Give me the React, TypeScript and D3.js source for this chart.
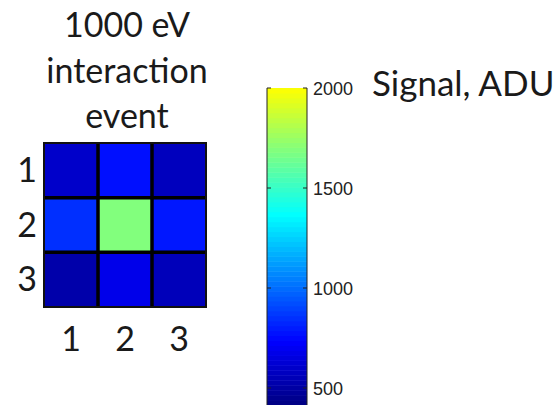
import React from "react";
import * as d3 from "d3";

// Detector pixel signal (ADU) for a single 1000 eV interaction event, rows top to bottom
const rowLabels = ["1", "2", "3"];
const colLabels = ["1", "2", "3"];
const signalRow1 = [600, 770, 570];
const signalRow2 = [850, 1690, 790];
const signalRow3 = [520, 680, 560];
const signalGrid = [signalRow1, signalRow2, signalRow3];

// Colour bar range and ticks (ADU)
const colorMin = 415;
const colorMax = 2000;
const colorTicks = [500, 1000, 1500, 2000];
// jet colormap stops, truncated at yellow
const jetStops = [415, 732, 1366, 2000];
const jetColors = ["#000080", "#0000ff", "#00ffff", "#ffff00"];

const titleLines = ["1000 eV", "interaction", "event"];
const colorbarTitle = "Signal, ADU";

const W = 554;
const H = 405;
const FONT = "Lato, 'Open Sans', sans-serif";

export default function App() {
  const grid = { x0: 44, x1: 206, y0: 143, y1: 307 };
  const x = d3.scaleBand<string>().domain(colLabels).range([grid.x0, grid.x1]);
  const y = d3.scaleBand<string>().domain(rowLabels).range([grid.y0, grid.y1]);

  const color = d3
    .scaleLinear<string>()
    .domain(jetStops)
    .range(jetColors)
    .interpolate(d3.interpolateRgb)
    .clamp(true);

  // Colour bar
  const cb = { x0: 267, x1: 307 };
  const cy = d3.scaleLinear().domain([colorMin, colorMax]).range([405, 88]);
  const nBands = 64;
  const bandVals = d3.range(nBands).map(
    (i) => colorMin + ((i + 0.5) * (colorMax - colorMin)) / nBands
  );
  const bandH = (cy(colorMin) - cy(colorMax)) / nBands;

  const cellW = x.bandwidth();
  const cellH = y.bandwidth();

  return (
    <div style={{ position: "fixed", left: 0, top: 0, width: W, height: H, background: "#fff" }}>
      <svg width={W} height={H} style={{ display: "block" }}>
        <rect width={W} height={H} fill="#fff" />
        {/* title */}
        {titleLines.map((t, i) => (
          <text
            key={t}
            x={127}
            y={37 + i * 45.5}
            textAnchor="middle"
            fontFamily={FONT}
            fontSize={34}
            fill="#1a1a1a"
          >
            {t}
          </text>
        ))}

        {/* cells */}
        {signalGrid.map((row, ri) =>
          row.map((v, ci) => (
            <rect
              key={`${ri}-${ci}`}
              x={x(colLabels[ci])}
              y={y(rowLabels[ri])}
              width={cellW}
              height={cellH}
              fill={color(v)}
            />
          ))
        )}
        {/* inner grid lines */}
        {colLabels.slice(1).map((c) => (
          <line
            key={`v${c}`}
            x1={x(c)}
            x2={x(c)}
            y1={grid.y0}
            y2={grid.y1}
            stroke="#000"
            strokeWidth={3.5}
          />
        ))}
        {rowLabels.slice(1).map((r) => (
          <line
            key={`h${r}`}
            x1={grid.x0}
            x2={grid.x1}
            y1={y(r)}
            y2={y(r)}
            stroke="#000"
            strokeWidth={3.5}
          />
        ))}
        <rect
          x={grid.x0}
          y={grid.y0}
          width={grid.x1 - grid.x0}
          height={grid.y1 - grid.y0}
          fill="none"
          stroke="#111"
          strokeWidth={2}
        />

        {/* row labels */}
        {rowLabels.map((r) => (
          <text
            key={`rl${r}`}
            x={27}
            y={(y(r) as number) + cellH / 2 + 11.5}
            textAnchor="middle"
            fontFamily={FONT}
            fontSize={34}
            fill="#1a1a1a"
          >
            {r}
          </text>
        ))}
        {/* column labels */}
        {colLabels.map((c) => (
          <text
            key={`cl${c}`}
            x={(x(c) as number) + cellW / 2}
            y={351}
            textAnchor="middle"
            fontFamily={FONT}
            fontSize={34}
            fill="#1a1a1a"
          >
            {c}
          </text>
        ))}

        {/* colour bar */}
        {bandVals.map((v, i) => (
          <rect
            key={`cb${i}`}
            x={cb.x0}
            y={cy(colorMin) - (i + 1) * bandH}
            width={cb.x1 - cb.x0}
            height={bandH + 0.5}
            fill={color(v)}
          />
        ))}
        <line x1={cb.x0} x2={cb.x0} y1={88} y2={H} stroke="#222" strokeWidth={1} />
        <line x1={cb.x1} x2={cb.x1} y1={88} y2={H} stroke="#222" strokeWidth={1} />
        {colorTicks.map((t) => (
          <g key={`ct${t}`}>
            <line x1={cb.x0} x2={cb.x0 + 4} y1={cy(t)} y2={cy(t)} stroke="#222" strokeWidth={1} />
            <line x1={cb.x1 - 4} x2={cb.x1} y1={cy(t)} y2={cy(t)} stroke="#222" strokeWidth={1} />
            <text
              x={313}
              y={cy(t) + 6.5}
              fontFamily="'Liberation Sans', Arial, sans-serif"
              fontSize={18}
              fill="#222"
            >
              {t}
            </text>
          </g>
        ))}
        <text x={372} y={96} fontFamily={FONT} fontSize={35} fill="#1a1a1a">
          {colorbarTitle}
        </text>
      </svg>
    </div>
  );
}
